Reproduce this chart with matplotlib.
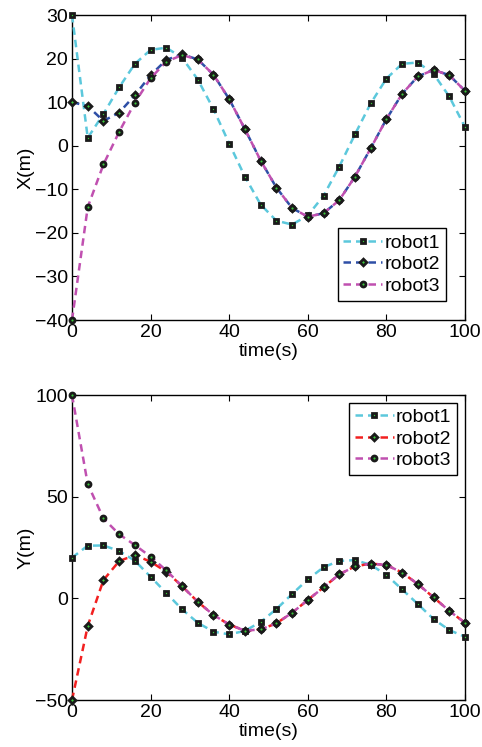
import matplotlib
matplotlib.use("Agg")
import matplotlib.pyplot as plt

plt.rcParams['font.family'] = ['Liberation Sans', 'DejaVu Sans']

t = list(range(0, 101, 4))

# X(m)
x_robot1 = [30, 1.8, 7.3, 13.4, 18.8, 22.0, 22.5, 20.2, 15.2, 8.4, 0.5, -7.1, -13.5,
            -17.2, -18.1, -16.0, -11.5, -4.8, 2.6, 9.7, 15.4, 18.8, 19.1, 16.5, 11.3, 4.3]
x_robot2 = [10, 9.1, 5.7, 7.6, 11.6, 16.2, 19.7, 21.0, 19.8, 16.3, 10.7, 3.8, -3.4,
            -9.6, -14.3, -16.3, -15.5, -12.5, -7.1, -0.6, 6.1, 11.9, 15.9, 17.4, 16.2, 12.6]
x_robot3 = [-40, -14.1, -4.3, 3.2, 9.9, 15.5, 19.3, 20.8, 19.8, 16.3, 10.7, 3.8, -3.4,
            -9.6, -14.3, -16.3, -15.5, -12.5, -7.1, -0.6, 6.1, 11.9, 15.9, 17.4, 16.2, 12.6]

# Y(m)
y_robot1 = [20, 25.9, 26.0, 23.3, 18.5, 10.6, 2.6, -5.4, -12.0, -16.4, -17.7, -16.0, -11.6,
            -5.3, 2.1, 9.3, 15.3, 18.4, 18.8, 16.5, 11.5, 4.4, -2.8, -10.2, -15.6, -18.9]
y_robot2 = [-50, -13.6, 9.0, 18.3, 21.3, 18.0, 13.1, 6.0, -1.7, -8.2, -12.9, -15.9, -15.3,
            -12.3, -7.1, -0.8, 5.4, 11.8, 15.7, 17.1, 16.4, 12.7, 7.0, 0.5, -6.2, -12.0]
y_robot3 = [100, 56.2, 39.3, 31.5, 26.2, 20.5, 13.7, 6.0, -1.7, -8.2, -12.9, -15.9, -15.3,
            -12.3, -7.1, -0.8, 5.4, 11.8, 15.7, 17.1, 16.4, 12.7, 7.0, 0.5, -6.2, -12.0]

labels = ['robot1', 'robot2', 'robot3']
markers = ['s', 'D', 'o']
msizes = [3.2, 3.4, 3.6]
c_cyan = '#5CC8DC'
c_blue = '#2E4FA6'
c_red = '#F22020'
c_mag = '#C050B0'
fs = 14

fig = plt.figure(figsize=(4.82, 7.47), dpi=100)
ax1 = fig.add_axes([0.1494, 0.5716, 0.8153, 0.4083])
ax2 = fig.add_axes([0.1494, 0.0629, 0.8153, 0.4083])


def draw(ax, series, colors):
    for ys, c, m, ms, lab in zip(series, colors, markers, msizes, labels):
        ax.plot(t, ys, color=c, lw=1.8, dashes=(3, 2), marker=m, ms=ms,
                mfc='#3CC83C', mec='#1a1a1a', mew=2.0, label=lab, clip_on=False, zorder=3)
    ax.set_xlim(0, 100)
    ax.set_xticks([0, 20, 40, 60, 80, 100])
    ax.tick_params(direction='in', top=True, right=True, length=4, width=0.8,
                   labelsize=fs, pad=3)
    for s in ax.spines.values():
        s.set_linewidth(1.0)
    ax.set_xlabel('time(s)', fontsize=fs, labelpad=1)


draw(ax1, [x_robot1, x_robot2, x_robot3], [c_cyan, c_blue, c_mag])
ax1.set_ylim(-40, 30)
ax1.set_yticks(range(-40, 31, 10))
ax1.set_ylabel('X(m)', fontsize=fs, labelpad=0)
leg1 = ax1.legend(loc='lower right', fontsize=fs, handlelength=2.0, handletextpad=0.1,
                  labelspacing=0.2, borderpad=0.3, borderaxespad=1.0, fancybox=False,
                  framealpha=1, edgecolor='black')
leg1.get_frame().set_linewidth(1.0)

draw(ax2, [y_robot1, y_robot2, y_robot3], [c_cyan, c_red, c_mag])
ax2.set_ylim(-50, 100)
ax2.set_yticks([-50, 0, 50, 100])
ax2.set_ylabel('Y(m)', fontsize=fs, labelpad=0)
leg2 = ax2.legend(loc='upper right', fontsize=fs, handlelength=2.0, handletextpad=0.1,
                  labelspacing=0.2, borderpad=0.3, borderaxespad=0.4, fancybox=False,
                  framealpha=1, edgecolor='black')
leg2.get_frame().set_linewidth(1.0)

fig.savefig('out.png', dpi=100)
